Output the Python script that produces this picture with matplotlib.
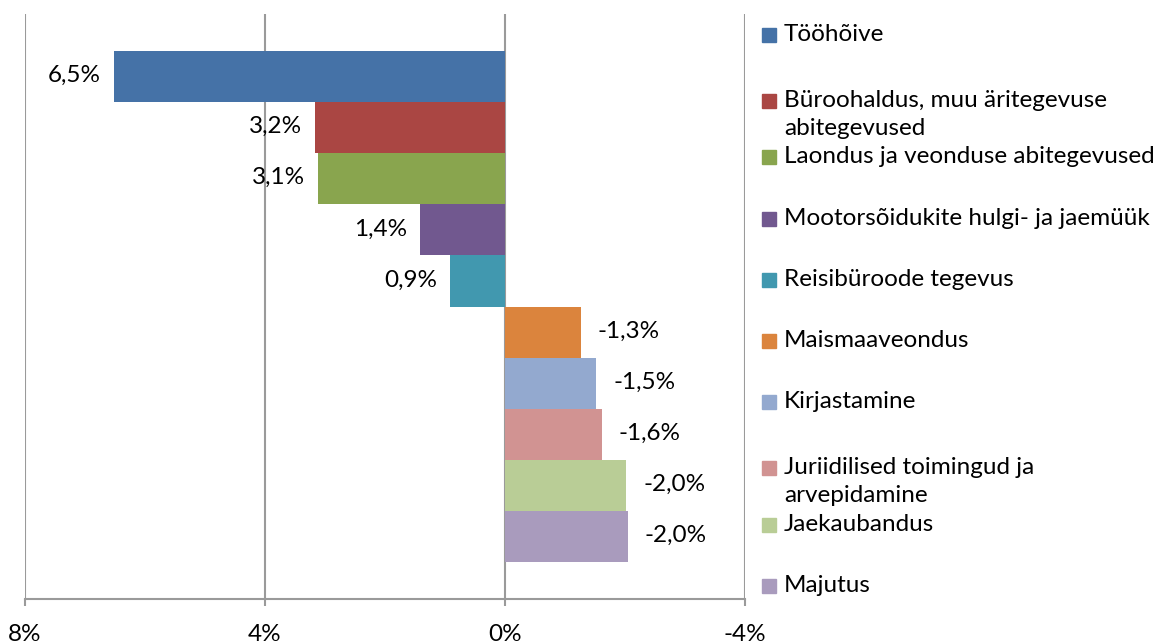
import matplotlib.pyplot as plt
from matplotlib.patches import Rectangle

# sector names (legend order, top to bottom)
sectors = ['Tööhõive',
           'Büroohaldus, muu äritegevuse\nabitegevused',
           'Laondus ja veonduse abitegevused',
           'Mootorsõidukite hulgi- ja jaemüük',
           'Reisibüroode tegevus',
           'Maismaaveondus',
           'Kirjastamine',
           'Juriidilised toimingud ja\narvepidamine',
           'Jaekaubandus',
           'Majutus']
# change, %
change = [6.52, 3.17, 3.12, 1.42, 0.92, -1.26, -1.52, -1.61, -2.02, -2.05]
colors = ['#4572A7', '#AA4643', '#89A54E', '#71588F', '#4198AF',
          '#DB843D', '#93A9CF', '#D19392', '#B9CD96', '#A99BBD']
xticks = [8, 4, 0, -4]

plt.rcParams['font.family'] = ['Lato', 'DejaVu Sans']
fs = 17.5

fig = plt.figure(figsize=(11.62, 6.44), dpi=100)
ax = fig.add_axes([25/1162, 45/644, 720/1162, 585/644])

ypos = list(range(len(sectors)))
ax.barh(ypos, change, height=1.0, color=colors, zorder=3)

for y, v in zip(ypos, change):
    lab = f'{v:.1f}%'.replace('.', ',')
    if v >= 0:
        ax.annotate(lab, (v, y), xytext=(-13, 1), textcoords='offset pixels',
                    ha='right', va='center', fontsize=fs)
    else:
        ax.annotate(lab, (v, y), xytext=(17, 1), textcoords='offset pixels',
                    ha='left', va='center', fontsize=fs)

ax.set_xlim(8, -4)
ax.set_ylim(10.224, -1.224)
ax.set_xticks(xticks)
ax.set_xticklabels([f'{t}%' for t in xticks], fontsize=fs)
ax.set_yticks([])
ax.grid(axis='x', color='#9a9a9a', linewidth=1.5, zorder=0)
for s in ['top', 'right', 'left']:
    ax.spines[s].set_visible(False)
ax.spines['bottom'].set_color('#9a9a9a')
ax.spines['bottom'].set_linewidth(1.5)
ax.tick_params(axis='x', length=5, width=1.5, color='#9a9a9a', pad=13)

# legend drawn by hand to the right of the plot
for i, (name, c) in enumerate(zip(sectors, colors)):
    yc = 1 - (35 + 61.2 * i) / 644
    if '\n' in name:
        yc -= 5 / 644
    fig.patches.append(Rectangle((762/1162, yc - 7/644), 14/1162, 14/644,
                                 transform=fig.transFigure, color=c))
    fig.text(784/1162, yc + 11/644, name, fontsize=fs, va='top', ha='left',
             linespacing=1.4)

fig.savefig('out.png', dpi=100)
